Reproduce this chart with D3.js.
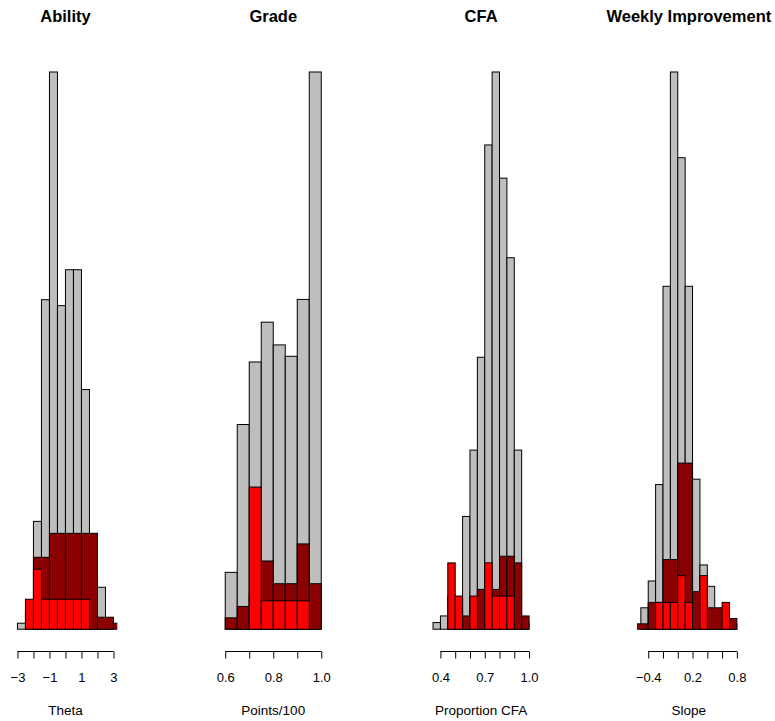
<!DOCTYPE html>
<html>
<head>
<meta charset="utf-8">
<script src="https://cdn.jsdelivr.net/npm/d3@7"></script>
<style>
  body { margin: 0; background: #fff; }
  text { font-family: "Liberation Sans", Arial, sans-serif; }
</style>
</head>
<body>
<script>
// panel titles and x labels
let titles = ["Ability", "Grade", "CFA", "Weekly Improvement"];
let xTitles = ["Theta", "Points/100", "Proportion CFA", "Slope"];

// counts, [first break, bin width, counts]
let abilityGray = [-3, 0.5, [1, 3, 18, 55, 93, 54, 60, 60, 40, 9, 7, 1]];
let abilityDark = [-3, 1, [0, 12, 16, 16, 16, 2, 1]];
let abilityRed = [-3, 0.5, [0, 5, 10, 5, 5, 5, 5, 5, 5]];

let gradeGray = [0.6, 0.05, [10, 36, 47, 54, 50, 48, 58, 98]];
let gradeDark = [0.6, 0.05, [2, 4, 6, 12, 8, 8, 15, 8]];
let gradeRed = [0.6, 0.05, [0, 0, 25, 5, 5, 5, 5, 0]];

let cfaGray = [0.35, 0.05, [1, 2, 2, 2, 17, 27, 41, 73, 84, 68, 56, 27, 1]];
let cfaDark = [0.35, 0.05, [0, 0, 5, 3, 2, 3, 6, 4, 6, 11, 11, 10, 2]];
let cfaRed = [0.35, 0.05, [0, 0, 10, 5, 0, 5, 0, 10, 5, 5, 5, 0, 0]];

let slopeGray = [-0.5, 0.1, [4, 9, 27, 64, 104, 88, 64, 28, 12, 8, 3, 2, 1]];
let slopeDark = [-0.6, 0.2, [1, 5, 13, 31, 7, 4, 2]];
let slopeRed = [-0.5, 0.1, [0, 0, 5, 5, 5, 10, 5, 0, 10, 0, 0, 5, 0]];

// axis ticks and the labels R kept
let thetaTicks = [-3, -2, -1, 0, 1, 2, 3];
let thetaLabels = ["\u22123", "", "\u22121", "", "1", "", "3"];
let gradeTicks = [0.6, 0.7, 0.8, 0.9, 1.0];
let gradeLabels = ["0.6", "", "0.8", "", "1.0"];
let cfaTicks = [0.4, 0.5, 0.6, 0.7, 0.8, 0.9, 1.0];
let cfaLabels = ["0.4", "", "", "0.7", "", "", "1.0"];
let slopeTicks = [-0.4, -0.2, 0, 0.2, 0.4, 0.6, 0.8];
let slopeLabels = ["\u22120.4", "", "", "0.2", "", "", "0.8"];

let colors = ["#bebebe", "#8b0000", "#ff0000"];

let panels = [
  {hists: [abilityGray, abilityDark, abilityRed], ticks: thetaTicks, labels: thetaLabels},
  {hists: [gradeGray, gradeDark, gradeRed], ticks: gradeTicks, labels: gradeLabels},
  {hists: [cfaGray, cfaDark, cfaRed], ticks: cfaTicks, labels: cfaLabels},
  {hists: [slopeGray, slopeDark, slopeRed], ticks: slopeTicks, labels: slopeLabels}
];

var width = 775, height = 721;
var left0 = 13.6, pitch = 207.8, plotW = 103.7,
    plotTop = 49.7, plotBottom = 651.5;

var svg = d3.select("body").append("svg")
  .attr("width", width)
  .attr("height", height);

panels.forEach((p, k) => {
  let left = left0 + k * pitch;
  let g0 = p.hists[0];
  let lo = g0[0], hi = g0[0] + g0[1] * g0[2].length;
  let pad = 0.04 * (hi - lo);
  let x = d3.scaleLinear().domain([lo - pad, hi + pad]).range([left, left + plotW]);
  let m = d3.max(g0[2]);
  let y = d3.scaleLinear().domain([-0.04 * m, 1.04 * m]).range([plotBottom, plotTop]);

  svg.append("clipPath").attr("id", "clip" + k)
    .append("rect")
      .attr("x", left).attr("y", plotTop)
      .attr("width", plotW).attr("height", plotBottom - plotTop);

  let g = svg.append("g").attr("clip-path", "url(#clip" + k + ")");

  p.hists.forEach((h, j) => {
    let bins = h[2].map((c, i) => ({x0: h[0] + i * h[1], x1: h[0] + (i + 1) * h[1], n: c}));
    g.append("g").selectAll("rect")
      .data(bins)
      .join("rect")
        .attr("x", d => x(d.x0))
        .attr("width", d => x(d.x1) - x(d.x0))
        .attr("y", d => y(d.n))
        .attr("height", d => y(0) - y(d.n))
        .attr("fill", colors[j])
        .attr("stroke", "#000")
        .attr("stroke-width", 1);
  });

  // title
  svg.append("text")
    .attr("x", left + plotW / 2)
    .attr("y", 21.5)
    .attr("text-anchor", "middle")
    .attr("font-weight", "bold")
    .attr("font-size", 16.5)
    .text(titles[k]);

  // x axis, line only from first to last tick like R
  let ax = svg.append("g")
    .attr("transform", "translate(0," + plotBottom + ")")
    .call(d3.axisBottom(x)
      .tickValues(p.ticks)
      .tickSize(7)
      .tickSizeOuter(0)
      .tickFormat((d, i) => p.labels[i]));
  ax.select(".domain").remove();
  ax.append("line")
    .attr("x1", x(p.ticks[0]))
    .attr("x2", x(p.ticks[p.ticks.length - 1]))
    .attr("stroke", "#000");
  ax.selectAll(".tick line").attr("stroke", "#000");
  ax.selectAll(".tick text")
    .attr("y", 30.5)
    .attr("dy", null)
    .attr("fill", "#000")
    .attr("font-size", 13)
    .attr("font-family", "Liberation Sans, Arial, sans-serif");

  svg.append("text")
    .attr("x", left + plotW / 2)
    .attr("y", 715)
    .attr("text-anchor", "middle")
    .attr("font-size", 13.5)
    .text(xTitles[k]);
});
</script>
</body>
</html>
